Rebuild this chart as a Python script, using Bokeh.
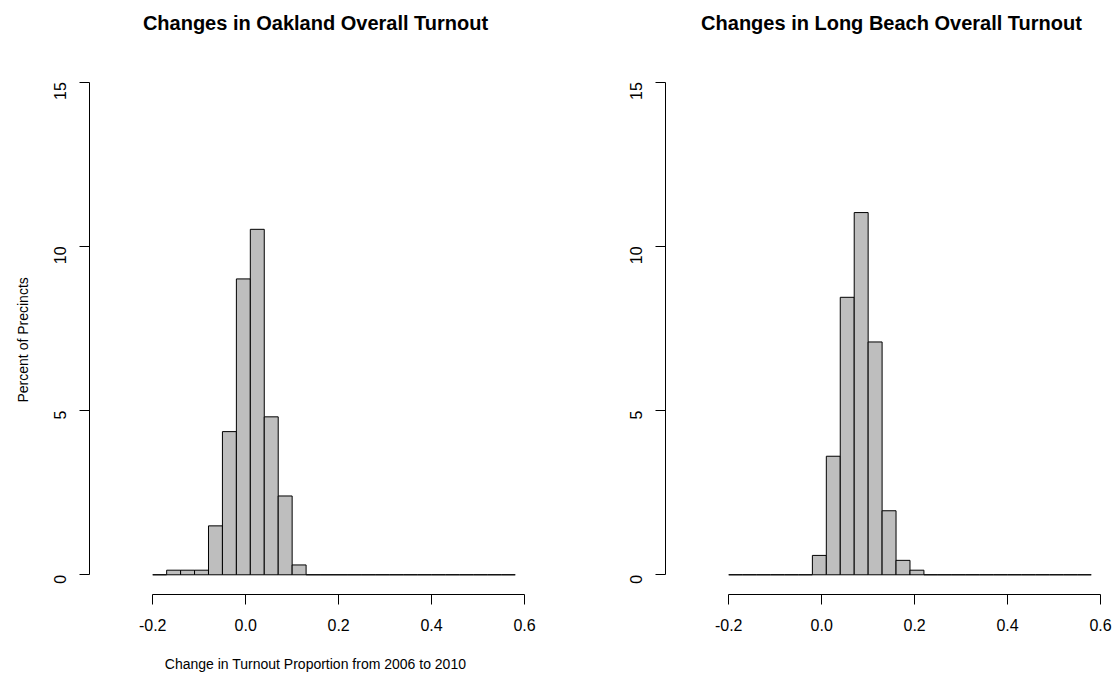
import math
from bokeh.plotting import figure
from bokeh.layouts import row
from bokeh.models import (Range1d, FixedTicker, NumeralTickFormatter, ColumnDataSource,
                          Title)
from bokeh.core.properties import value
from bokeh.embed import file_html
from bokeh.resources import INLINE

# ---- data ----
bin_edges = [-0.20, -0.17, -0.14, -0.11, -0.08, -0.05, -0.02, 0.01, 0.04, 0.07,
             0.10, 0.13, 0.16, 0.19, 0.22, 0.25, 0.28, 0.31, 0.34, 0.37,
             0.40, 0.43, 0.46, 0.49, 0.52, 0.55, 0.58]
oakland_density = [0.00, 0.14, 0.14, 0.14, 1.49, 4.36, 9.01, 10.52, 4.81, 2.40,
                   0.30, 0.00, 0.00, 0.00, 0.00, 0.00, 0.00, 0.00, 0.00, 0.00,
                   0.00, 0.00, 0.00, 0.00, 0.00, 0.00]
longbeach_density = [0.00, 0.00, 0.00, 0.00, 0.00, 0.00, 0.59, 3.61, 8.45, 11.03,
                     7.09, 1.95, 0.44, 0.14, 0.00, 0.00, 0.00, 0.00, 0.00, 0.00,
                     0.00, 0.00, 0.00, 0.00, 0.00, 0.00]
x_ticks = [-0.2, 0.0, 0.2, 0.4, 0.6]
y_ticks = [0, 5, 10, 15]
titles = ["Changes in Oakland Overall Turnout", "Changes in Long Beach Overall Turnout"]
x_label = "Change in Turnout Proportion from 2006 to 2010"
y_label = "Percent of Precincts"

FONT = "Liberation Sans"
PX_PER_X = 464.8
PX_PER_Y = 32.84
X0 = -0.336
Y0 = -0.6
FRAME_H = 594                      # frame spans from the top of the canvas to the x axis
Y1 = Y0 + FRAME_H / PX_PER_Y


def make_panel(density, title, width, left_border, right_border, xlab=None, ylab=None):
    frame_w = width - left_border - right_border
    p = figure(width=width, height=675, output_backend="svg", toolbar_location=None,
               title=None,
               x_range=Range1d(X0, X0 + frame_w / PX_PER_X), y_range=Range1d(Y0, Y1),
               min_border_left=left_border, min_border_right=right_border,
               min_border_top=0, min_border_bottom=81)
    p.outline_line_color = None
    p.xgrid.visible = False
    p.ygrid.visible = False
    p.background_fill_color = "white"
    p.border_fill_color = "white"

    xax = p.below[0]
    yax = p.left[0]

    # panel title (text glyph in the top part of the frame)
    p.text(x=[X0 + 226 / PX_PER_X], y=[Y1 - 22 / PX_PER_Y], text=[title],
           text_font=value(FONT), text_font_size="20px", text_font_style="bold",
           text_color="black", text_align="center", text_baseline="middle")

    src = ColumnDataSource(dict(left=bin_edges[:-1], right=bin_edges[1:], top=density,
                                bottom=[0] * len(density)))
    p.quad(left="left", right="right", top="top", bottom="bottom", source=src,
           fill_color="#BEBEBE", line_color="black", line_width=1)

    for ax in (xax, yax):
        ax.axis_line_color = "black"
        ax.major_tick_line_color = "black"
        ax.major_tick_in = 0
        ax.major_tick_out = 10
        ax.minor_tick_line_color = None
        ax.major_label_text_font = FONT
        ax.major_label_text_font_size = "16px"
        ax.major_label_text_color = "black"
        ax.axis_label_text_font = FONT
        ax.axis_label_text_font_style = "normal"
        ax.axis_label_text_color = "black"
    xax.ticker = FixedTicker(ticks=x_ticks)
    xax.formatter = NumeralTickFormatter(format="0.0")
    xax.bounds = (x_ticks[0], x_ticks[-1])
    xax.major_label_standoff = 14
    yax.ticker = FixedTicker(ticks=y_ticks)
    yax.bounds = (y_ticks[0], y_ticks[-1])
    yax.major_label_orientation = math.pi / 2
    yax.major_label_standoff = 19

    if xlab:
        xax.axis_label = xlab
        xax.axis_label_text_font_size = "14px"
        xax.axis_label_standoff = 22
    if ylab:
        p.add_layout(Title(text=ylab, align="left", offset=192, standoff=27,
                           vertical_align="middle", text_font=FONT,
                           text_font_size="14px", text_font_style="normal",
                           text_color="black"), "left")
    return p


p1 = make_panel(oakland_density, titles[0], 557, 89, 16, xlab=x_label, ylab=y_label)
p2 = make_panel(longbeach_density, titles[1], 557, 108, 0)

layout = row(p1, p2)
open("out.html", "w").write(file_html(layout, INLINE))
